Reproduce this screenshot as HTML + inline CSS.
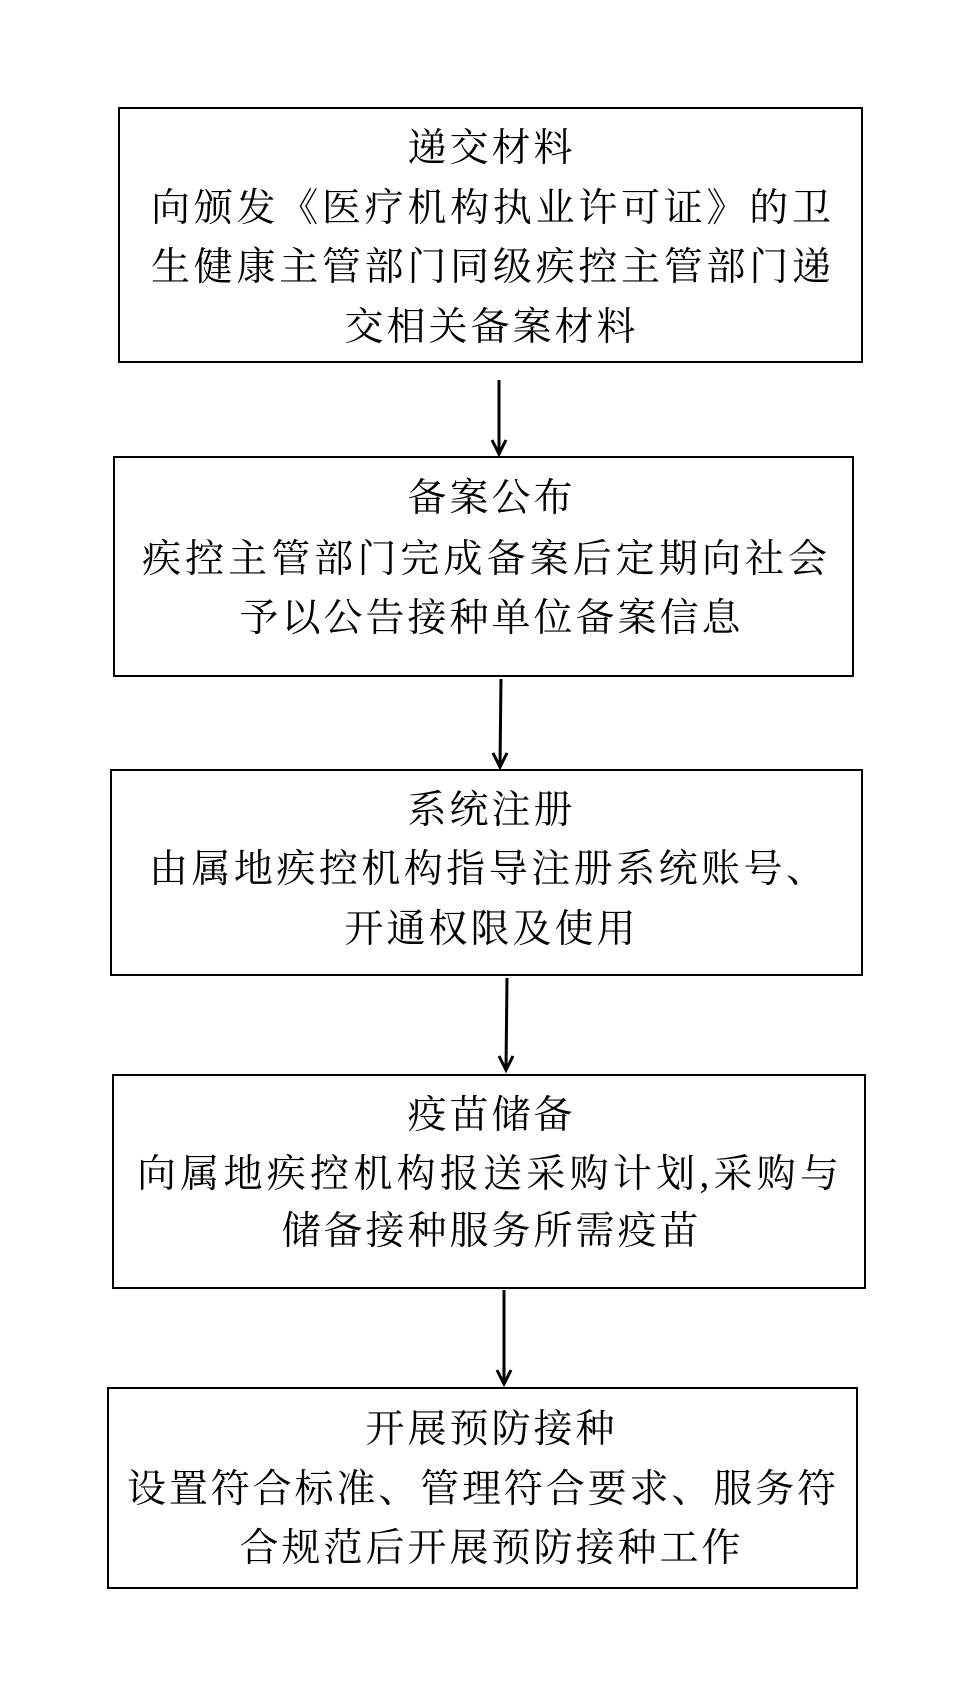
<!DOCTYPE html>
<html><head><meta charset="utf-8"><style>
body{margin:0;width:960px;height:1687px;background:#fff;position:relative;overflow:hidden;font-family:"Liberation Serif","Noto Serif CJK SC",serif;color:#000}
.b{position:absolute;border:2px solid #000;box-sizing:border-box}
.l{position:absolute;font-size:39px;line-height:60px;height:60px;white-space:nowrap}
.j{text-align:justify;text-align-last:justify}
.c{text-align:center;letter-spacing:3px;width:960px;padding-left:3px;box-sizing:border-box}
svg{position:absolute;left:0;top:0}
</style></head><body>
<div class="b" style="left:118px;top:107px;width:745px;height:256px"></div>
<div class="l c" style="top:119px;left:10px">递交材料</div>
<div class="l j" style="top:179px;left:151px;width:680px">向颁发《医疗机构执业许可证》的卫</div>
<div class="l j" style="top:238px;left:151px;width:680px">生健康主管部门同级疾控主管部门递</div>
<div class="l c" style="top:298px;left:10px">交相关备案材料</div>

<div class="b" style="left:113px;top:456px;width:741px;height:221px"></div>
<div class="l c" style="top:469px;left:10px">备案公布</div>
<div class="l j" style="top:530px;left:142px;width:685px">疾控主管部门完成备案后定期向社会</div>
<div class="l c" style="top:589px;left:10px">予以公告接种单位备案信息</div>

<div class="b" style="left:110px;top:769px;width:753px;height:207px"></div>
<div class="l c" style="top:781px;left:10px">系统注册</div>
<div class="l j" style="top:840px;left:149px;width:676px">由属地疾控机构指导注册系统账号、</div>
<div class="l c" style="top:900px;left:10px">开通权限及使用</div>

<div class="b" style="left:112px;top:1074px;width:754px;height:215px"></div>
<div class="l c" style="top:1086px;left:10px">疫苗储备</div>
<div class="l j" style="top:1145px;left:137px;width:702px">向属地疾控机构报送采购计划,采购与</div>
<div class="l c" style="top:1202px;left:10px">储备接种服务所需疫苗</div>

<div class="b" style="left:107px;top:1387px;width:751px;height:202px"></div>
<div class="l c" style="top:1400px;left:10px">开展预防接种</div>
<div class="l j" style="top:1460px;left:127px;width:709px">设置符合标准、管理符合要求、服务符</div>
<div class="l c" style="top:1519px;left:10px">合规范后开展预防接种工作</div>

<svg width="960" height="1687">
<g stroke="#000" stroke-width="3" fill="none">
<line x1="499" y1="380" x2="499" y2="453"/><polyline points="492,440 499,454 506,440"/>
<line x1="501" y1="679" x2="500" y2="766"/><polyline points="493,753 500,767 507,753"/>
<line x1="507" y1="978" x2="506" y2="1069"/><polyline points="499,1056 506,1070 513,1056"/>
<line x1="504" y1="1290" x2="504" y2="1383"/><polyline points="497,1370 504,1384 511,1370"/>
</g></svg>
</body></html>
